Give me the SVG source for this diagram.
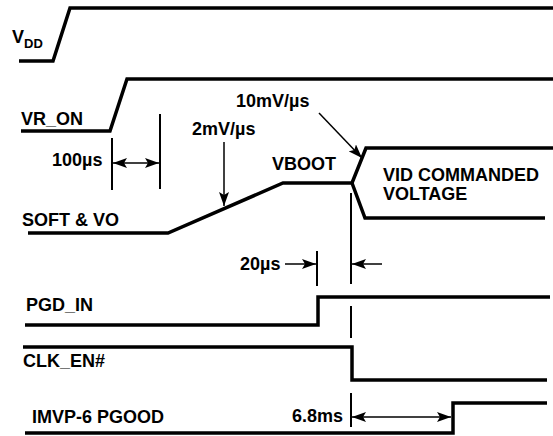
<svg xmlns="http://www.w3.org/2000/svg" width="553" height="436" viewBox="0 0 553 436">
<style>
text{font-family:"Liberation Sans",Arial,sans-serif;font-weight:bold;font-size:18px;fill:#000}
.sig{fill:none;stroke:#000;stroke-width:3.5;stroke-linejoin:miter}
.thin{fill:none;stroke:#000;stroke-width:2}
.arr{fill:none;stroke:#000;stroke-width:1.5}
</style>
<defs>
<marker id="ah" viewBox="0 0 14 10" refX="14" refY="5" markerWidth="14" markerHeight="10" markerUnits="userSpaceOnUse" orient="auto-start-reverse">
<path d="M0,0 L14,5 L0,10 L3,5 Z" fill="#000"/>
</marker>
</defs>
<g id="vdd">
<path class="sig" d="M19,61 H53 L70,8 H553"/>
<text x="12" y="43" font-size="17">V<tspan font-size="13" dy="5">DD</tspan></text>
</g>
<g id="vr_on">
<path class="sig" d="M21,131 H110 L127,79 H553"/>
<text x="21" y="125">VR_ON</text>
</g>
<g id="soft">
<path class="sig" d="M28,233 H168 L283,183 H352 L366,148 H553"/>
<path class="sig" d="M352,183 L365,218 H545"/>
<text x="22" y="226">SOFT &amp; VO</text>
<text x="272" y="170">VBOOT</text>
<text x="383" y="181">VID COMMANDED</text>
<text x="383" y="200">VOLTAGE</text>
</g>
<g id="pgd_in">
<path class="sig" d="M25,325 H318 V297 H550"/>
<text x="26" y="311">PGD_IN</text>
</g>
<g id="clk_en">
<path class="sig" d="M23,347 H352 V380 H547"/>
<text x="23" y="367">CLK_EN#</text>
</g>
<g id="pgood">
<path class="sig" d="M25,433 H453 V403 H547"/>
<text x="32" y="423">IMVP-6 PGOOD</text>
</g>
<g id="connectors">
<path class="thin" d="M112,138 V190 M160,114 V189 M317,251 V286 M351,193 V284 M351,306 V338 M351,393 V427"/>
<path class="arr" d="M113,163 H159" marker-start="url(#ah)" marker-end="url(#ah)"/>
<path class="arr" d="M224,142 V206" marker-end="url(#ah)"/>
<path class="arr" d="M319,113 L362,158" marker-end="url(#ah)"/>
<path class="arr" d="M285,264 H316" marker-end="url(#ah)"/>
<path class="arr" d="M382,264 H352" marker-end="url(#ah)"/>
<path class="arr" d="M352,417 H451" marker-start="url(#ah)" marker-end="url(#ah)"/>
</g>
<g id="labels">
<text x="52" y="166">100µs</text>
<text x="192" y="135">2mV/µs</text>
<text x="236" y="107">10mV/µs</text>
<text x="240" y="270">20µs</text>
<text x="292" y="422">6.8ms</text>
</g>
</svg>
